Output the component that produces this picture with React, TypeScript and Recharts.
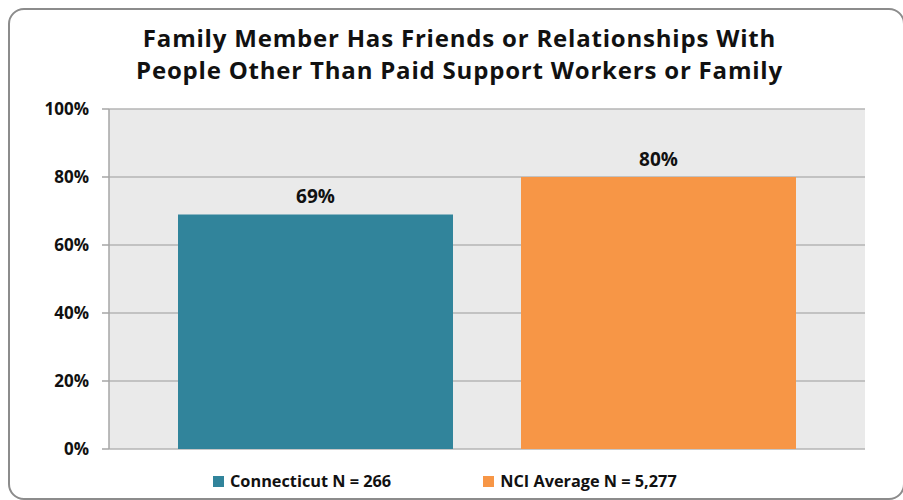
import { BarChart, Bar, XAxis, YAxis, CartesianGrid, LabelList } from 'recharts'

const TITLE = [
  'Family Member Has Friends or Relationships With',
  'People Other Than Paid Support Workers or Family',
]
const CATEGORIES = ['']
const SERIES_KEYS = ['ct', 'nci']
const SERIES_NAMES = ['Connecticut N = 266', 'NCI Average N = 5,277']
const SERIES_COLORS = ['#31849b', '#f79646']
const CT_VALUES = [69]
const NCI_VALUES = [80]
const Y_TICKS = [0, 20, 40, 60, 80, 100]

const data = CATEGORIES.map((name, i) => ({ name, ct: CT_VALUES[i], nci: NCI_VALUES[i] }))

const FONT = '"Open Sans", Lato, sans-serif'

export default function App() {
  return (
    <div style={{ position: 'absolute', left: 0, top: 0, width: 903, height: 500, fontFamily: FONT }}>
      {/* rounded frame */}
      <div
        style={{
          position: 'absolute',
          left: 8,
          top: 8,
          width: 897,
          height: 492,
          border: '2px solid #8c8c8c',
          borderRadius: 16,
          boxSizing: 'border-box',
        }}
      />
      {TITLE.map((line, i) => (
        <div
          key={i}
          style={{
            position: 'absolute',
            left: 0,
            width: 919,
            top: 22 + i * 32,
            textAlign: 'center',
            fontSize: 24,
            letterSpacing: 0.8,
            fontWeight: 700,
            lineHeight: '32px',
            color: '#111',
          }}
        >
          {line}
        </div>
      ))}
      <div style={{ position: 'absolute', left: 0, top: 0 }}>
        <BarChart
          width={903}
          height={500}
          data={data}
          margin={{ top: 109, right: 38, bottom: 51, left: 20 }}
          barSize={275}
          barGap={68}
        >
          <CartesianGrid vertical={false} fill="#eaeaea" stroke="#b4b4b4" strokeWidth={1.5} />
          <XAxis dataKey="name" tick={false} tickLine={false} height={0} axisLine={{ stroke: '#a6a6a6', strokeWidth: 1.5 }} />
          <YAxis
            width={89}
            domain={[0, 100]}
            ticks={Y_TICKS}
            interval={0}
            tickFormatter={(v) => `${v}%`}
            tickSize={7}
            tickMargin={13}
            axisLine={{ stroke: '#a6a6a6', strokeWidth: 1.5 }}
            tickLine={{ stroke: '#a6a6a6', strokeWidth: 1.5 }}
            tick={{ fill: '#111', fontSize: 17, fontWeight: 700, fontFamily: FONT }}
          />
          {SERIES_KEYS.map((k, i) => (
            <Bar key={k} dataKey={k} name={SERIES_NAMES[i]} fill={SERIES_COLORS[i]} isAnimationActive={false}>
              <LabelList
                dataKey={k}
                position="top"
                offset={11}
                formatter={(v) => `${v}%`}
                style={{ fill: '#111', fontSize: 19, fontWeight: 700, fontFamily: FONT }}
              />
            </Bar>
          ))}
        </BarChart>
      </div>
      {/* legend */}
      <div
        style={{
          position: 'absolute',
          left: 213,
          top: 469,
          display: 'flex',
          gap: 92,
          fontSize: 16.3,
          fontWeight: 700,
          color: '#111',
          lineHeight: '24px',
        }}
      >
        {SERIES_NAMES.map((n, i) => (
          <div key={n} style={{ display: 'flex', alignItems: 'center' }}>
            <span style={{ width: 11, height: 11, background: SERIES_COLORS[i], marginRight: 6, display: 'inline-block' }} />
            {n}
          </div>
        ))}
      </div>
    </div>
  )
}
